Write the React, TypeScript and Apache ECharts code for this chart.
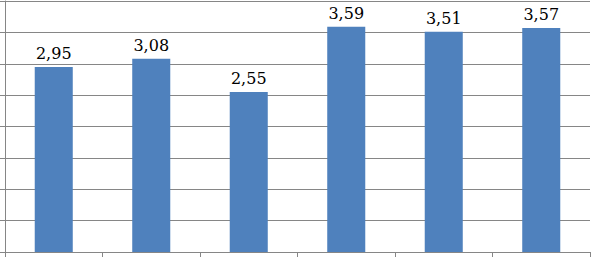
import React, { useEffect, useRef } from "react";
import * as echarts from "echarts";

const categories: string[] = ["1", "2", "3", "4", "5", "6"];
const values: number[] = [2.95, 3.08, 2.55, 3.59, 3.51, 3.57];

const SERIF = "'DejaVu Serif', serif";

export default function App() {
  const ref = useRef<HTMLDivElement>(null);
  useEffect(() => {
    if (!ref.current) return;
    const chart = echarts.init(ref.current, undefined, { renderer: "svg" });
    chart.setOption({
      animation: false,
      backgroundColor: "#ffffff",
      textStyle: { fontFamily: SERIF },
      grid: { left: 5, right: 2, top: 1, bottom: 6, containLabel: false },
      xAxis: {
        type: "category",
        data: categories,
        boundaryGap: true,
        axisLine: { show: true, lineStyle: { color: "#868686", width: 1 } },
        axisTick: { show: true, length: 5, lineStyle: { color: "#868686" } },
        axisLabel: { show: false },
      },
      yAxis: {
        type: "value",
        min: 0,
        max: 4,
        interval: 0.5,
        axisLine: { show: true, lineStyle: { color: "#868686", width: 1 } },
        axisTick: { show: true, length: 5, lineStyle: { color: "#868686" } },
        axisLabel: { show: false },
        splitLine: { show: true, lineStyle: { color: "#868686", width: 1 } },
      },
      series: [
        {
          type: "bar",
          data: values,
          barWidth: "39%",
          itemStyle: { color: "#4f81bd" },
          label: {
            show: true,
            position: "top",
            distance: 5,
            fontFamily: SERIF,
            fontSize: 16,
            color: "#000000",
            formatter: (p: any) => p.value.toFixed(2).replace(".", ","),
          },
        },
      ],
    });
    return () => chart.dispose();
  }, []);
  return (
    <div
      ref={ref}
      style={{ position: "absolute", left: 0, top: 0, width: 592, height: 258 }}
    />
  );
}
